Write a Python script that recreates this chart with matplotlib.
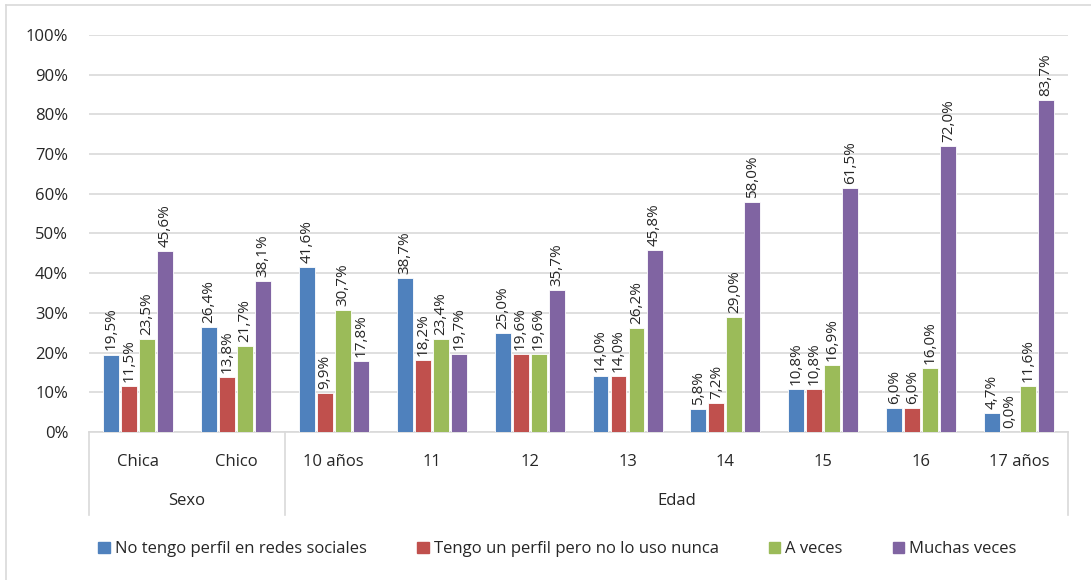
import matplotlib
matplotlib.use("Agg")
import matplotlib.pyplot as plt
from matplotlib.lines import Line2D
import numpy as np

plt.rcParams['font.family'] = ['Open Sans', 'DejaVu Sans']

categories = ["Chica", "Chico", "10 años", "11", "12", "13", "14", "15", "16", "17 años"]
groups = [("Sexo", 0, 2), ("Edad", 2, 10)]
series_names = ["No tengo perfil en redes sociales", "Tengo un perfil pero no lo uso nunca",
                "A veces", "Muchas veces"]
no_perfil = [19.5, 26.4, 41.6, 38.7, 25.0, 14.0, 5.8, 10.8, 6.0, 4.7]
perfil_nunca = [11.5, 13.8, 9.9, 18.2, 19.6, 14.0, 7.2, 10.8, 6.0, 0.0]
a_veces = [23.5, 21.7, 30.7, 23.4, 19.6, 26.2, 29.0, 16.9, 16.0, 11.6]
muchas_veces = [45.6, 38.1, 17.8, 19.7, 35.7, 45.8, 58.0, 61.5, 72.0, 83.7]
colors = ["#4F81BD", "#C0504D", "#9BBB59", "#8064A2"]

series = [no_perfil, perfil_nunca, a_veces, muchas_veces]

fig = plt.figure(figsize=(10.91, 5.80), dpi=100)
ax = fig.add_axes([0.0816, 0.2552, 0.979 - 0.0816, 0.9397 - 0.2552])

x = np.arange(len(categories))
slot = 0.184
bw = 0.163
for i, (vals, c) in enumerate(zip(series, colors)):
    xs = x + (i - 1.5) * slot
    ax.bar(xs, vals, width=bw, color=c, edgecolor='white', linewidth=0.6, zorder=3)
    for xi, v in zip(xs, vals):
        ax.annotate(f"{v:.1f}%".replace('.', ','), (xi, v), xytext=(0, 3),
                    textcoords='offset points', rotation=90, ha='center', va='bottom',
                    fontsize=11, color='#262626', zorder=4)

ax.set_xlim(-0.5, len(categories) - 0.5)
ax.set_ylim(0, 100)
ax.set_yticks(np.arange(0, 101, 10))
ax.set_yticklabels([f"{t}%" for t in range(0, 101, 10)], fontsize=12, color='#262626')
ax.yaxis.grid(True, color='#d9d9d9', linewidth=1.2, zorder=0)
ax.set_axisbelow(True)
ax.tick_params(axis='y', length=0, pad=15)
ax.set_xticks([])
for s in ['top', 'right', 'left']:
    ax.spines[s].set_visible(False)
ax.spines['bottom'].set_color('#d9d9d9')
ax.spines['bottom'].set_linewidth(1.2)

trans = ax.get_xaxis_transform()
for xi, lab in zip(x, categories):
    ax.text(xi, -0.0756, lab, transform=trans, ha='center', va='center',
            fontsize=12, color='#262626')
sep_bottom = -0.209
for name, s, e in groups:
    ax.text((s + e - 1) / 2, -0.174, name, transform=trans, ha='center', va='center',
            fontsize=12, color='#262626')
bounds = sorted(set([g[1] - 0.5 for g in groups] + [g[2] - 0.5 for g in groups]))
for b in bounds:
    ax.add_line(Line2D([b, b], [0, sep_bottom], transform=trans, color='#d9d9d9',
                       linewidth=1.2, clip_on=False))

handles = [plt.Rectangle((0, 0), 1, 1, color=c) for c in colors]
fig.legend(handles, series_names, loc='center', bbox_to_anchor=(0.511, 0.053), ncol=4,
           frameon=False, fontsize=12, handlelength=0.7, handleheight=0.7,
           handletextpad=0.3, columnspacing=3.0, labelcolor='#262626')

# figure border (left and top edges visible)
fig.add_artist(Line2D([6 / 1091, 6 / 1091], [0, 1 - 5 / 580], transform=fig.transFigure,
                      color='#d9d9d9', linewidth=1.2))
fig.add_artist(Line2D([6 / 1091, 1], [1 - 5 / 580, 1 - 5 / 580], transform=fig.transFigure,
                      color='#d9d9d9', linewidth=1.2))

fig.savefig("out.png", dpi=100)
